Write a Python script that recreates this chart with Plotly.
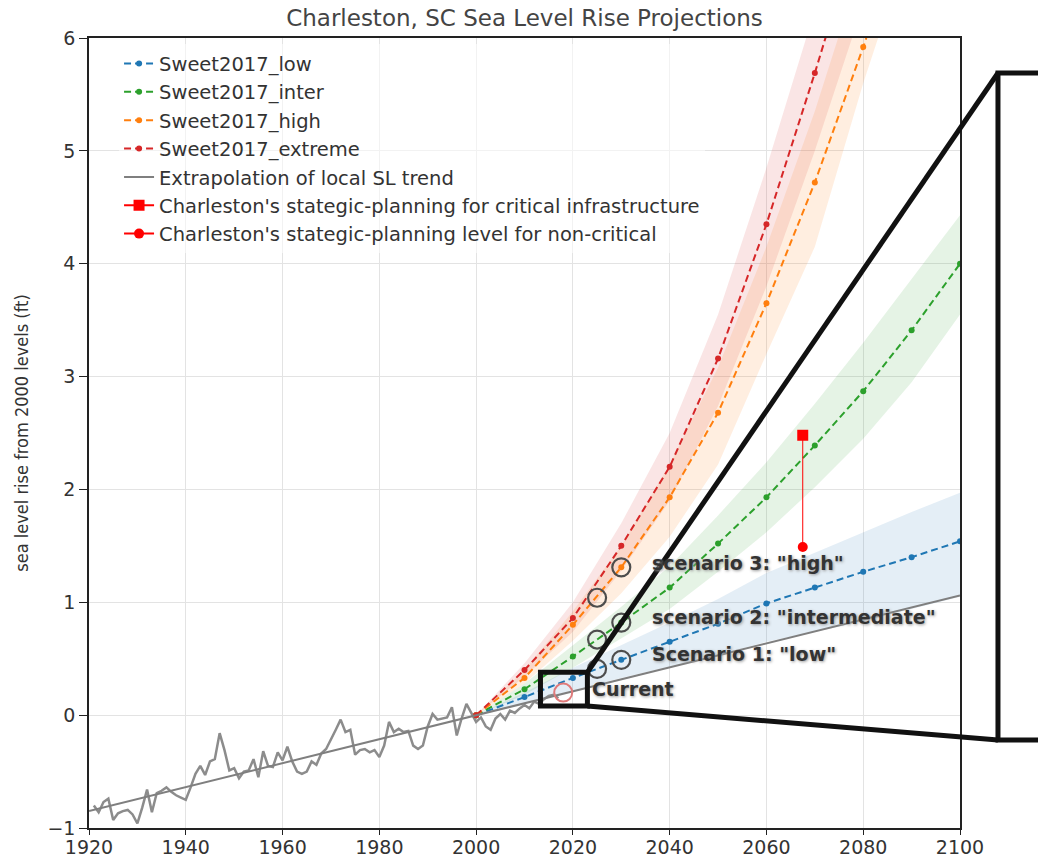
import plotly.graph_objects as go

# ---------------- data ----------------
# Annual observed relative sea level at Charleston (ft, relative to 2000)
obs_years = list(range(1921, 2018))
obs_level = [
    -0.80, -0.86, -0.77, -0.74, -0.93, -0.87, -0.85, -0.84, -0.88, -0.96,  # 1921-1930
    -0.82, -0.66, -0.86, -0.69, -0.67, -0.64, -0.68, -0.71, -0.73, -0.75,  # 1931-1940
    -0.64, -0.52, -0.45, -0.53, -0.41, -0.39, -0.16, -0.31, -0.49, -0.47,  # 1941-1950
    -0.56, -0.50, -0.49, -0.39, -0.55, -0.32, -0.45, -0.46, -0.33, -0.40,  # 1951-1960
    -0.28, -0.41, -0.50, -0.52, -0.50, -0.41, -0.44, -0.34, -0.30, -0.22,  # 1961-1970
    -0.13, -0.04, -0.15, -0.13, -0.35, -0.31, -0.30, -0.33, -0.31, -0.37,  # 1971-1980
    -0.27, -0.06, -0.15, -0.12, -0.15, -0.14, -0.27, -0.30, -0.27, -0.10,  # 1981-1990
    0.01, -0.04, -0.03, -0.02, 0.07, -0.18, -0.03, 0.10, 0.02, -0.06,      # 1991-2000
    -0.02, -0.10, -0.13, -0.03, 0.01, -0.04, 0.04, 0.02, 0.06, 0.09,       # 2001-2010
    0.06, 0.12, 0.10, 0.14, 0.17, 0.18, 0.15,                              # 2011-2017
]

# Linear extrapolation of the local trend
trend_years = [1920, 2100]
trend_level = [-0.85, 1.06]

# Sweet et al. (2017) scenarios, decadal
proj_years = [2000, 2010, 2020, 2030, 2040, 2050, 2060, 2070, 2080, 2090, 2100]
low = [0.0, 0.16, 0.33, 0.49, 0.65, 0.81, 0.99, 1.13, 1.27, 1.40, 1.54]
inter = [0.0, 0.23, 0.52, 0.82, 1.13, 1.52, 1.93, 2.39, 2.87, 3.41, 4.00]
high = [0.0, 0.33, 0.80, 1.31, 1.93, 2.68, 3.65, 4.72, 5.92, 7.20, 8.60]
extreme = [0.0, 0.40, 0.86, 1.50, 2.20, 3.16, 4.35, 5.69, 7.10, 8.70, 10.30]

# Likely ranges around each scenario
low_lo = [0.0, 0.10, 0.22, 0.33, 0.43, 0.53, 0.65, 0.74, 0.83, 0.94, 1.05]
low_hi = [0.0, 0.20, 0.42, 0.62, 0.82, 1.03, 1.26, 1.44, 1.62, 1.80, 1.97]
inter_lo = [0.0, 0.18, 0.42, 0.68, 0.94, 1.27, 1.62, 2.02, 2.45, 2.95, 3.55]
inter_hi = [0.0, 0.28, 0.62, 0.96, 1.32, 1.77, 2.24, 2.76, 3.30, 3.87, 4.43]
high_lo = [0.0, 0.28, 0.66, 1.08, 1.58, 2.22, 3.20, 4.15, 5.60, 6.90, 8.20]
high_hi = [0.0, 0.40, 0.92, 1.50, 2.22, 3.08, 4.15, 5.35, 6.70, 8.10, 9.60]
ext_lo = [0.0, 0.34, 0.74, 1.28, 1.90, 2.74, 3.80, 5.00, 6.30, 7.70, 9.10]
ext_hi = [0.0, 0.46, 1.00, 1.70, 2.50, 3.55, 4.85, 6.25, 7.80, 9.50, 11.30]

# Highlighted scenario points (2025 and 2030)
mark_years = [2025, 2030]
mark_low = [0.41, 0.49]
mark_inter = [0.67, 0.82]
mark_high = [1.04, 1.31]

current_year = [2018]
current_level = [0.20]

# City planning levels
plan_year = [2067.5]
plan_critical = [2.48]
plan_noncritical = [1.49]

# Text labels
scenario_labels = ['scenario 3: "high"', 'scenario 2: "intermediate"',
                   'Scenario 1: "low"', 'Current']
label_x = [2036, 2036, 2036, 2023.5]
label_y = [1.35, 0.87, 0.54, 0.23]

# Inset window
zoom_x = [2013.3, 2023.0]
zoom_y = [0.08, 0.38]

# ---------------- styling ----------------
C_BLUE = "#1f77b4"
C_ORANGE = "#ff7f0e"
C_GREEN = "#2ca02c"
C_RED = "#d62728"
C_GRAY = "#7f7f7f"
FONT = "DejaVu Sans"

X_RANGE = [1920, 2100]
Y_RANGE = [-1, 6]

fig = go.Figure()


def band(lo, hi, color):
    fig.add_trace(go.Scatter(
        x=proj_years + proj_years[::-1], y=hi + lo[::-1],
        fill="toself", fillcolor=color, line=dict(width=0),
        mode="lines", hoverinfo="skip", showlegend=False))


band(ext_lo, ext_hi, "rgba(214,39,40,0.12)")
band(high_lo, high_hi, "rgba(255,127,14,0.13)")
band(inter_lo, inter_hi, "rgba(44,160,44,0.12)")
band(low_lo, low_hi, "rgba(31,119,180,0.12)")

# observed record and trend
fig.add_trace(go.Scatter(x=obs_years, y=obs_level, mode="lines",
                         line=dict(color="#8c8c8c", width=2.5),
                         showlegend=False))


def scenario(name, vals, color):
    fig.add_trace(go.Scatter(
        x=proj_years, y=vals, name=name, mode="lines+markers",
        line=dict(color=color, width=2, dash="7px,4px"),
        marker=dict(color=color, size=6)))


scenario("Sweet2017_low", low, C_BLUE)
scenario("Sweet2017_inter", inter, C_GREEN)
scenario("Sweet2017_high", high, C_ORANGE)
scenario("Sweet2017_extreme", extreme, C_RED)

fig.add_trace(go.Scatter(x=trend_years, y=trend_level, mode="lines",
                         name="Extrapolation of local SL trend",
                         line=dict(color=C_GRAY, width=2)))

# planning levels
fig.add_trace(go.Scatter(x=plan_year * 2, y=plan_critical + plan_noncritical,
                         mode="lines", line=dict(color="red", width=1),
                         showlegend=False))
fig.add_trace(go.Scatter(x=plan_year, y=plan_critical, mode="lines+markers",
                         name="Charleston's stategic-planning for critical infrastructure",
                         line=dict(color="red", width=2),
                         marker=dict(color="red", symbol="square", size=11)))
fig.add_trace(go.Scatter(x=plan_year, y=plan_noncritical, mode="lines+markers",
                         name="Charleston's stategic-planning level for non-critical",
                         line=dict(color="red", width=2),
                         marker=dict(color="red", symbol="circle", size=10)))

# open circles marking scenario years
for vals in (mark_low, mark_inter, mark_high):
    fig.add_trace(go.Scatter(x=mark_years, y=vals, mode="markers",
                             marker=dict(symbol="circle-open", size=18,
                                         color="#4d4d4d", line=dict(width=2.2)),
                             showlegend=False))
fig.add_trace(go.Scatter(x=current_year, y=current_level, mode="markers",
                         marker=dict(symbol="circle-open", size=18,
                                     color="#e07a7a", line=dict(width=2)),
                         showlegend=False))

for txt, tx, ty in zip(scenario_labels, label_x, label_y):
    fig.add_annotation(x=tx, y=ty, text=txt, showarrow=False,
                       xanchor="left", yanchor="middle",
                       font=dict(family=FONT, size=19, color="#333333",
                                 weight="bold", shadow="1px 1px 3px #999999"))

# ---------------- inset callout ----------------
def to_frac(v, rng):
    return (v - rng[0]) / (rng[1] - rng[0])


zx0, zx1 = to_frac(zoom_x[0], X_RANGE), to_frac(zoom_x[1], X_RANGE)
zy0, zy1 = to_frac(zoom_y[0], Y_RANGE), to_frac(zoom_y[1], Y_RANGE)
box_left, box_top, box_bottom = 1.0436, 0.9557, 0.1114

fig.add_shape(type="rect", xref="paper", yref="paper",
              x0=box_left, x1=1.25, y0=box_bottom, y1=box_top,
              line=dict(color="#111111", width=5), fillcolor="white",
              layer="above")
fig.add_shape(type="line", xref="paper", yref="paper",
              x0=zx1, y0=zy1, x1=box_left, y1=box_top,
              line=dict(color="#111111", width=5), layer="above")
fig.add_shape(type="line", xref="paper", yref="paper",
              x0=zx1, y0=zy0, x1=box_left, y1=box_bottom,
              line=dict(color="#111111", width=5), layer="above")
fig.add_shape(type="rect", xref="paper", yref="paper",
              x0=zx0, x1=zx1, y0=zy0, y1=zy1,
              line=dict(color="#111111", width=5), layer="above")

# ---------------- layout ----------------
axis_common = dict(showline=True, linecolor="#222222", linewidth=1.5, mirror=True,
                   ticks="outside", tickcolor="#222222",
                   showgrid=True, gridcolor="#e3e3e3", gridwidth=1,
                   zeroline=False, automargin=False,
                   tickfont=dict(family=FONT, size=19, color="#333333"))

fig.update_layout(
    width=1038, height=865,
    margin=dict(l=89, r=78, t=38, b=37),
    paper_bgcolor="white", plot_bgcolor="white",
    title=dict(text="Charleston, SC Sea Level Rise Projections",
               x=0.5, xref="paper", xanchor="center", y=1 - 18 / 865, yanchor="middle",
               font=dict(family=FONT, size=23, color="#444444")),
    xaxis=dict(range=X_RANGE, dtick=20, tick0=1920, ticklen=5,
               ticklabelstandoff=-4, **axis_common),
    yaxis=dict(range=Y_RANGE, dtick=1, tick0=-1, ticklen=8,
               title=dict(text="sea level rise from 2000 levels (ft)", standoff=14,
                          font=dict(family="DejaVu Sans Condensed", size=18,
                                    color="#333333")),
               **axis_common),
    legend=dict(x=0.0345, y=0.992, xanchor="left", yanchor="top",
                bgcolor="rgba(255,255,255,0.55)", borderwidth=0,
                tracegroupgap=0, itemwidth=30,
                font=dict(family=FONT, size=19.5, color="#333333")),
    showlegend=True,
)

fig.write_html("out.html")
